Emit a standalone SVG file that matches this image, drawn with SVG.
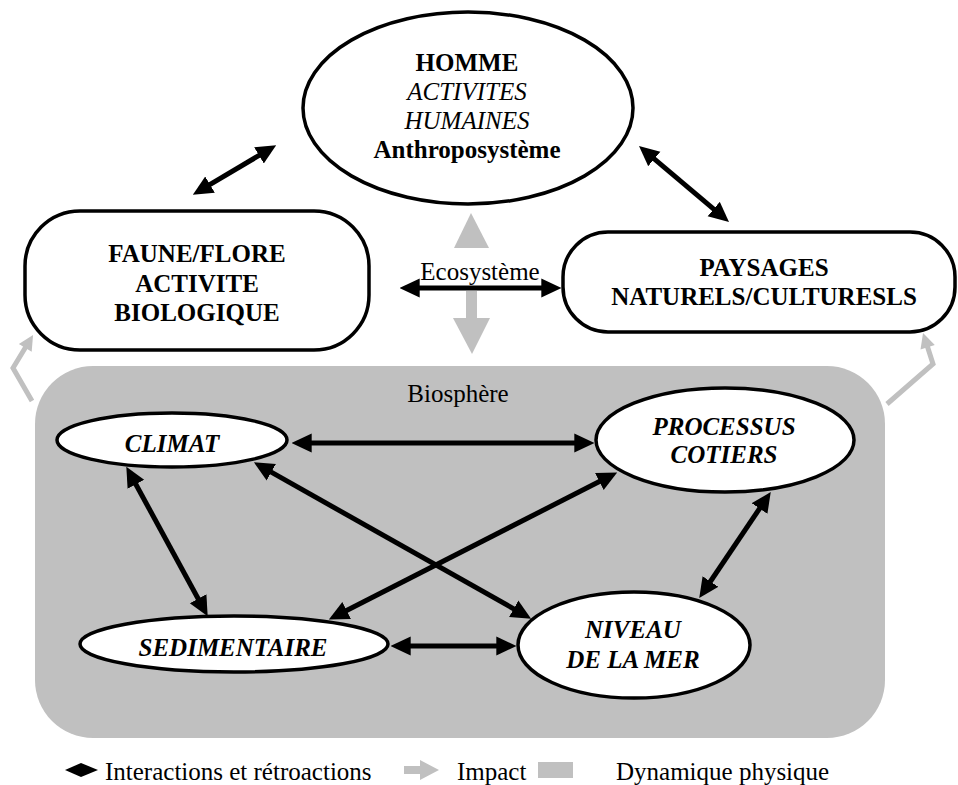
<svg xmlns="http://www.w3.org/2000/svg" width="958" height="785" viewBox="0 0 958 785">
<defs>
<style>
.t{font-family:"Liberation Serif","Times New Roman",serif;font-size:25px;fill:#000}
.b{font-weight:bold}
.i{font-style:italic}
.bi{font-weight:bold;font-style:italic}
.node{fill:#fff;stroke:#000;stroke-width:3.5}
.con{stroke:#000;stroke-width:5;fill:none;marker-start:url(#ah);marker-end:url(#ah)}
.imp{stroke:#c0c0c0;stroke-width:5;fill:none;stroke-linejoin:miter;marker-end:url(#gh)}
</style>
<marker id="ah" markerUnits="userSpaceOnUse" markerWidth="20" markerHeight="20" viewBox="0 -9 18 18" refX="6" refY="0" orient="auto-start-reverse">
<path d="M0,-8.5 L18,0 L0,8.5 z" fill="#000"/>
</marker>
<marker id="gh" markerUnits="userSpaceOnUse" markerWidth="16" markerHeight="16" viewBox="0 -8 15 16" refX="7" refY="0" orient="auto">
<path d="M0,-7.5 L15,0 L0,7.5 z" fill="#c0c0c0"/>
</marker>
</defs>

<rect id="biosphere" x="35" y="366" width="850" height="372" rx="58" ry="58" fill="#c0c0c0"/>
<text class="t" x="458" y="402" text-anchor="middle">Biosphère</text>

<g id="impacts">
<polygon points="471,213 454,248 489,248" fill="#c0c0c0"/>
<rect x="466" y="291" width="11" height="28" fill="#c0c0c0"/>
<polygon points="453,318 490,318 472,354" fill="#c0c0c0"/>
<polyline class="imp" points="32,401 13,368 28.9,341.8"/>
<polyline class="imp" points="887,404 933,364 925.5,340.6"/>
</g>

<g id="homme">
<ellipse class="node" cx="468" cy="108" rx="165" ry="96" stroke-width="4"/>
<text class="t b" x="467" y="71" text-anchor="middle">HOMME</text>
<text class="t i" x="467" y="100" text-anchor="middle">ACTIVITES</text>
<text class="t i" x="467" y="129" text-anchor="middle">HUMAINES</text>
<text class="t b" x="467" y="158" text-anchor="middle">Anthroposystème</text>
</g>

<g id="faune">
<rect class="node" x="25" y="211" width="344" height="139" rx="55" ry="55"/>
<text class="t b" x="197" y="262" text-anchor="middle">FAUNE/FLORE</text>
<text class="t b" x="197" y="292" text-anchor="middle">ACTIVITE</text>
<text class="t b" x="197" y="321" text-anchor="middle">BIOLOGIQUE</text>
</g>

<g id="paysages">
<rect class="node" x="563" y="232" width="392" height="100" rx="45" ry="45"/>
<text class="t b" x="764" y="276" text-anchor="middle">PAYSAGES</text>
<text class="t b" x="764" y="305" text-anchor="middle">NATURELS/CULTURESLS</text>
</g>

<g id="ecosysteme">
<text class="t" x="480" y="280" text-anchor="middle">Ecosystème</text>
</g>

<g id="climat">
<ellipse class="node" cx="172" cy="440" rx="115" ry="27"/>
<text class="t bi" x="172" y="452" text-anchor="middle">CLIMAT</text>
</g>

<g id="processus">
<ellipse class="node" cx="725" cy="440" rx="129" ry="52"/>
<text class="t bi" x="724" y="435" text-anchor="middle">PROCESSUS</text>
<text class="t bi" x="724" y="463" text-anchor="middle">COTIERS</text>
</g>

<g id="sedimentaire">
<ellipse class="node" cx="234" cy="644" rx="154" ry="28"/>
<text class="t bi" x="233" y="656" text-anchor="middle">SEDIMENTAIRE</text>
</g>

<g id="niveau">
<ellipse class="node" cx="634" cy="645" rx="116" ry="53"/>
<text class="t bi" x="633" y="638" text-anchor="middle">NIVEAU</text>
<text class="t bi" x="633" y="668" text-anchor="middle">DE LA MER</text>
</g>

<g id="connectors">
<line class="con" x1="204.3" y1="187.9" x2="264.7" y2="152.1"/>
<line class="con" x1="649.2" y1="154.7" x2="718.8" y2="213.3"/>
<line class="con" x1="413" y1="288" x2="548" y2="288"/>
<line class="con" x1="305" y1="443" x2="581" y2="443"/>
<line class="con" x1="265.5" y1="468.9" x2="519.5" y2="612.1"/>
<line class="con" x1="132.7" y1="478.5" x2="201.3" y2="604.5"/>
<line class="con" x1="340.7" y1="613.5" x2="605.3" y2="478.5"/>
<line class="con" x1="404" y1="646" x2="503" y2="646"/>
<line class="con" x1="763.3" y1="503" x2="706.7" y2="587"/>
</g>

<g id="legend">
<polygon points="65,770 81,763 98,770 81,777" fill="#000"/>
<text class="t" x="105" y="780">Interactions et rétroactions</text>
<polygon points="404,766 420,766 420,760 439,770 420,780 420,774 404,774" fill="#c0c0c0"/>
<text class="t" x="457" y="780">Impact</text>
<rect x="538" y="762" width="35" height="16" fill="#c0c0c0"/>
<text class="t" x="616" y="780">Dynamique physique</text>
</g>
</svg>
